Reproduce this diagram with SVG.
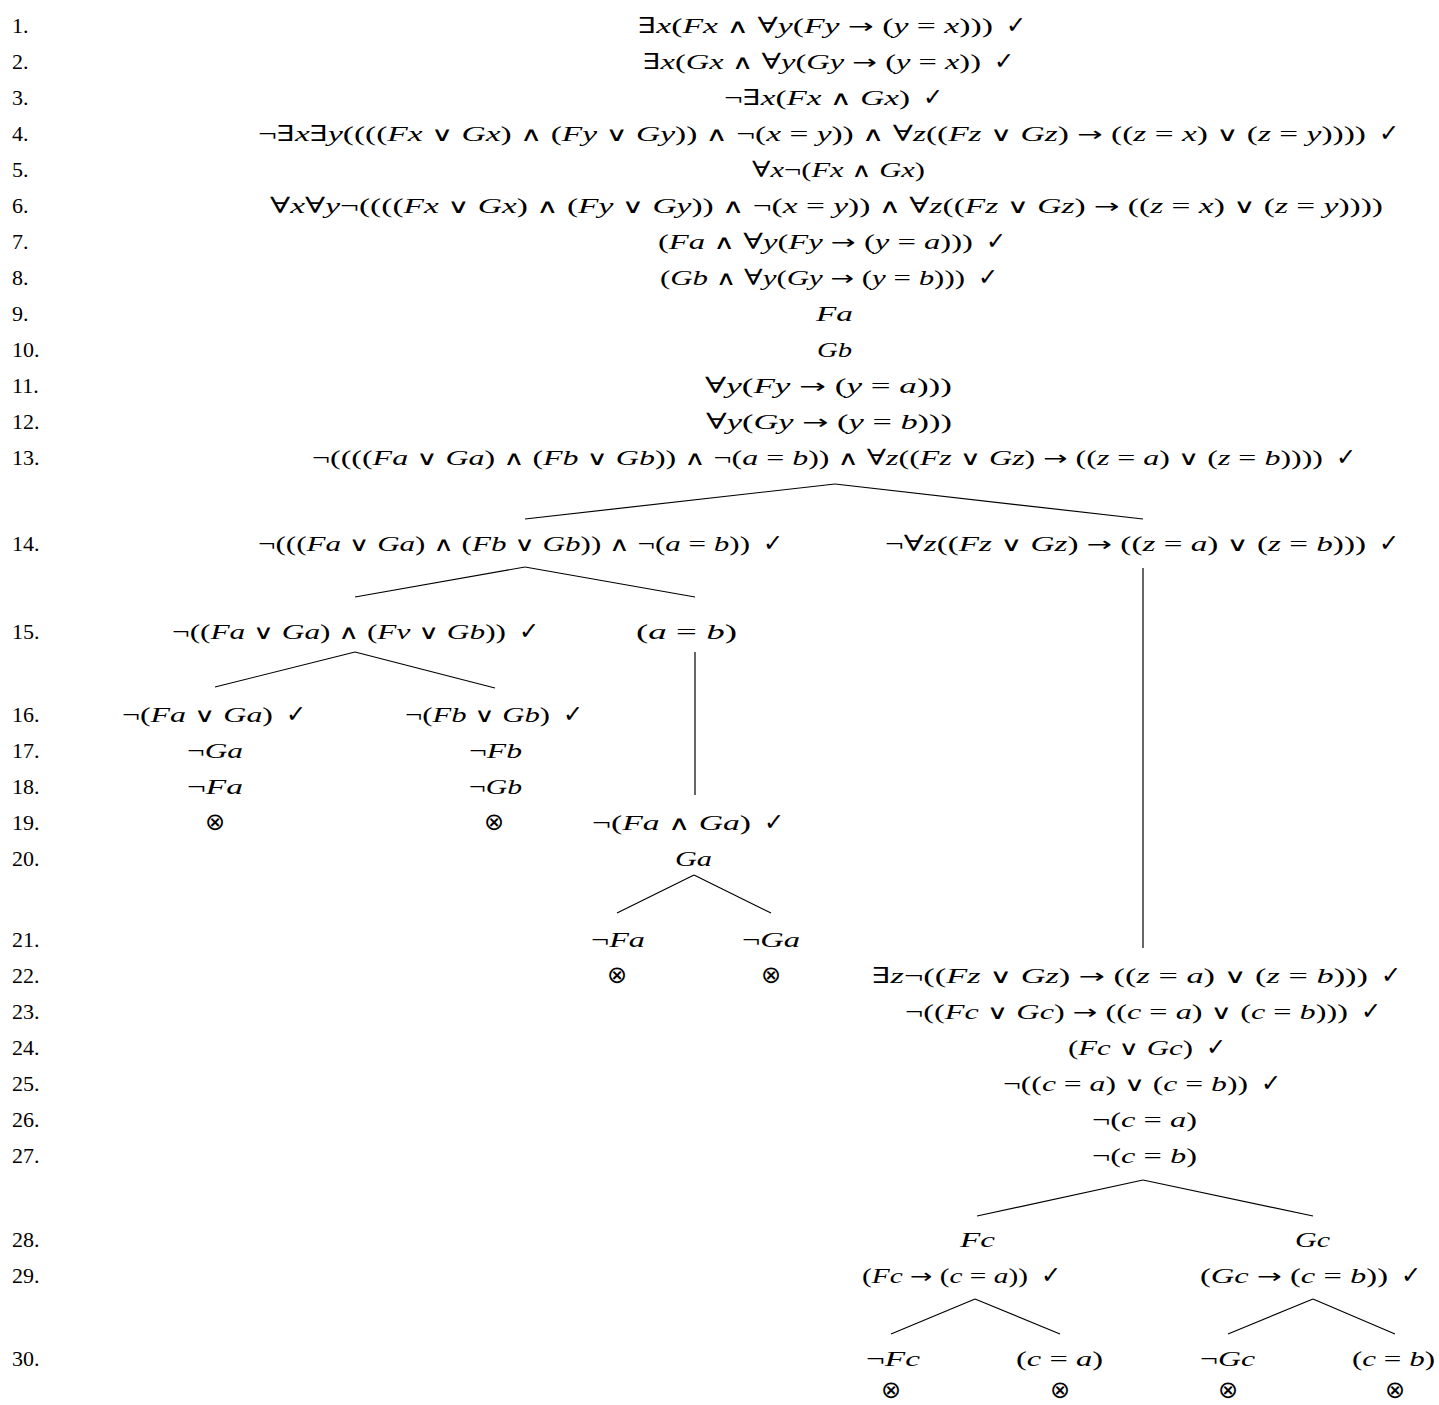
<svg xmlns="http://www.w3.org/2000/svg" width="1439" height="1405" viewBox="0 0 1439 1405">
<style>
.t{font-family:"Liberation Serif","DejaVu Serif",serif;font-size:22px;fill:#000}
.lb{font-family:"Liberation Serif","DejaVu Serif",serif;font-size:22px;fill:#000}
.i{font-style:italic}
.w{font-family:"DejaVu Sans",sans-serif;font-size:20px}
.a{font-family:"DejaVu Sans",sans-serif;font-size:20px}
.ck{font-family:"DejaVu Sans",sans-serif;font-size:24px;fill:#000}
.x{font-family:"DejaVu Sans",sans-serif;font-size:24px;fill:#000;text-anchor:middle}
line{stroke:#000;stroke-width:1.2}
</style>
<rect width="1439" height="1405" fill="#fff"/>
<g id="labels">
<text class="lb" x="12" y="33">1.</text>
<text class="lb" x="12" y="69">2.</text>
<text class="lb" x="12" y="105">3.</text>
<text class="lb" x="12" y="141">4.</text>
<text class="lb" x="12" y="177">5.</text>
<text class="lb" x="12" y="213">6.</text>
<text class="lb" x="12" y="249">7.</text>
<text class="lb" x="12" y="285">8.</text>
<text class="lb" x="12" y="321">9.</text>
<text class="lb" x="12" y="357">10.</text>
<text class="lb" x="12" y="393">11.</text>
<text class="lb" x="12" y="429">12.</text>
<text class="lb" x="12" y="465">13.</text>
<text class="lb" x="12" y="551">14.</text>
<text class="lb" x="12" y="639">15.</text>
<text class="lb" x="12" y="722">16.</text>
<text class="lb" x="12" y="758">17.</text>
<text class="lb" x="12" y="794">18.</text>
<text class="lb" x="12" y="830">19.</text>
<text class="lb" x="12" y="866">20.</text>
<text class="lb" x="12" y="947">21.</text>
<text class="lb" x="12" y="983">22.</text>
<text class="lb" x="12" y="1019">23.</text>
<text class="lb" x="12" y="1055">24.</text>
<text class="lb" x="12" y="1091">25.</text>
<text class="lb" x="12" y="1127">26.</text>
<text class="lb" x="12" y="1163">27.</text>
<text class="lb" x="12" y="1247">28.</text>
<text class="lb" x="12" y="1283">29.</text>
<text class="lb" x="12" y="1366">30.</text>
</g>
<g id="connectors">
<line x1="835" y1="484" x2="525" y2="519"/>
<line x1="835" y1="484" x2="1143" y2="519"/>
<line x1="525" y1="567" x2="355" y2="597"/>
<line x1="525" y1="567" x2="695" y2="597"/>
<line x1="695" y1="652" x2="695" y2="795"/>
<line x1="1143" y1="568" x2="1143" y2="948"/>
<line x1="355" y1="652" x2="215" y2="687"/>
<line x1="355" y1="652" x2="495" y2="688"/>
<line x1="694" y1="875" x2="617" y2="913"/>
<line x1="694" y1="875" x2="771" y2="913"/>
<line x1="1143" y1="1180" x2="977" y2="1216"/>
<line x1="1143" y1="1180" x2="1313" y2="1216"/>
<line x1="975" y1="1299" x2="891" y2="1334"/>
<line x1="975" y1="1299" x2="1060" y2="1334"/>
<line x1="1313" y1="1299" x2="1228" y2="1334"/>
<line x1="1313" y1="1299" x2="1395" y2="1334"/>
</g>
<g id="n1"><text class="t" x="638" y="33" textLength="355" lengthAdjust="spacingAndGlyphs">∃<tspan class="i">x</tspan>(<tspan class="i">Fx</tspan> <tspan class="w">∧</tspan> ∀<tspan class="i">y</tspan>(<tspan class="i">Fy</tspan> <tspan class="a">→</tspan> (<tspan class="i">y</tspan> = <tspan class="i">x</tspan>)))</text><text class="ck" x="1006" y="33">✓</text></g>
<g id="n2"><text class="t" x="643" y="69" textLength="338" lengthAdjust="spacingAndGlyphs">∃<tspan class="i">x</tspan>(<tspan class="i">Gx</tspan> <tspan class="w">∧</tspan> ∀<tspan class="i">y</tspan>(<tspan class="i">Gy</tspan> <tspan class="a">→</tspan> (<tspan class="i">y</tspan> = <tspan class="i">x</tspan>))</text><text class="ck" x="994" y="69">✓</text></g>
<g id="n3"><text class="t" x="724" y="105" textLength="186" lengthAdjust="spacingAndGlyphs">¬∃<tspan class="i">x</tspan>(<tspan class="i">Fx</tspan> <tspan class="w">∧</tspan> <tspan class="i">Gx</tspan>)</text><text class="ck" x="923" y="105">✓</text></g>
<g id="n4"><text class="t" x="258" y="141" textLength="1108" lengthAdjust="spacingAndGlyphs">¬∃<tspan class="i">x</tspan>∃<tspan class="i">y</tspan>((((<tspan class="i">Fx</tspan> <tspan class="w">∨</tspan> <tspan class="i">Gx</tspan>) <tspan class="w">∧</tspan> (<tspan class="i">Fy</tspan> <tspan class="w">∨</tspan> <tspan class="i">Gy</tspan>)) <tspan class="w">∧</tspan> ¬(<tspan class="i">x</tspan> = <tspan class="i">y</tspan>)) <tspan class="w">∧</tspan> ∀<tspan class="i">z</tspan>((<tspan class="i">Fz</tspan> <tspan class="w">∨</tspan> <tspan class="i">Gz</tspan>) <tspan class="a">→</tspan> ((<tspan class="i">z</tspan> = <tspan class="i">x</tspan>) <tspan class="w">∨</tspan> (<tspan class="i">z</tspan> = <tspan class="i">y</tspan>))))</text><text class="ck" x="1379" y="141">✓</text></g>
<g id="n5"><text class="t" x="752" y="177" textLength="173" lengthAdjust="spacingAndGlyphs">∀<tspan class="i">x</tspan>¬(<tspan class="i">Fx</tspan> <tspan class="w">∧</tspan> <tspan class="i">Gx</tspan>)</text></g>
<g id="n6"><text class="t" x="270" y="213" textLength="1113" lengthAdjust="spacingAndGlyphs">∀<tspan class="i">x</tspan>∀<tspan class="i">y</tspan>¬((((<tspan class="i">Fx</tspan> <tspan class="w">∨</tspan> <tspan class="i">Gx</tspan>) <tspan class="w">∧</tspan> (<tspan class="i">Fy</tspan> <tspan class="w">∨</tspan> <tspan class="i">Gy</tspan>)) <tspan class="w">∧</tspan> ¬(<tspan class="i">x</tspan> = <tspan class="i">y</tspan>)) <tspan class="w">∧</tspan> ∀<tspan class="i">z</tspan>((<tspan class="i">Fz</tspan> <tspan class="w">∨</tspan> <tspan class="i">Gz</tspan>) <tspan class="a">→</tspan> ((<tspan class="i">z</tspan> = <tspan class="i">x</tspan>) <tspan class="w">∨</tspan> (<tspan class="i">z</tspan> = <tspan class="i">y</tspan>))))</text></g>
<g id="n7"><text class="t" x="658" y="249" textLength="315" lengthAdjust="spacingAndGlyphs">(<tspan class="i">Fa</tspan> <tspan class="w">∧</tspan> ∀<tspan class="i">y</tspan>(<tspan class="i">Fy</tspan> <tspan class="a">→</tspan> (<tspan class="i">y</tspan> = <tspan class="i">a</tspan>)))</text><text class="ck" x="986" y="249">✓</text></g>
<g id="n8"><text class="t" x="660" y="285" textLength="305" lengthAdjust="spacingAndGlyphs">(<tspan class="i">Gb</tspan> <tspan class="w">∧</tspan> ∀<tspan class="i">y</tspan>(<tspan class="i">Gy</tspan> <tspan class="a">→</tspan> (<tspan class="i">y</tspan> = <tspan class="i">b</tspan>)))</text><text class="ck" x="978" y="285">✓</text></g>
<g id="n9"><text class="t i" x="816" y="321" textLength="37" lengthAdjust="spacingAndGlyphs">Fa</text></g>
<g id="n10"><text class="t i" x="817" y="357" textLength="35" lengthAdjust="spacingAndGlyphs">Gb</text></g>
<g id="n11"><text class="t" x="705" y="393" textLength="247" lengthAdjust="spacingAndGlyphs">∀<tspan class="i">y</tspan>(<tspan class="i">Fy</tspan> <tspan class="a">→</tspan> (<tspan class="i">y</tspan> = <tspan class="i">a</tspan>)))</text></g>
<g id="n12"><text class="t" x="706" y="429" textLength="246" lengthAdjust="spacingAndGlyphs">∀<tspan class="i">y</tspan>(<tspan class="i">Gy</tspan> <tspan class="a">→</tspan> (<tspan class="i">y</tspan> = <tspan class="i">b</tspan>)))</text></g>
<g id="n13"><text class="t" x="312" y="465" textLength="1011" lengthAdjust="spacingAndGlyphs">¬((((<tspan class="i">Fa</tspan> <tspan class="w">∨</tspan> <tspan class="i">Ga</tspan>) <tspan class="w">∧</tspan> (<tspan class="i">Fb</tspan> <tspan class="w">∨</tspan> <tspan class="i">Gb</tspan>)) <tspan class="w">∧</tspan> ¬(<tspan class="i">a</tspan> = <tspan class="i">b</tspan>)) <tspan class="w">∧</tspan> ∀<tspan class="i">z</tspan>((<tspan class="i">Fz</tspan> <tspan class="w">∨</tspan> <tspan class="i">Gz</tspan>) <tspan class="a">→</tspan> ((<tspan class="i">z</tspan> = <tspan class="i">a</tspan>) <tspan class="w">∨</tspan> (<tspan class="i">z</tspan> = <tspan class="i">b</tspan>))))</text><text class="ck" x="1336" y="465">✓</text></g>
<g id="n14a"><text class="t" x="258" y="551" textLength="492" lengthAdjust="spacingAndGlyphs">¬(((<tspan class="i">Fa</tspan> <tspan class="w">∨</tspan> <tspan class="i">Ga</tspan>) <tspan class="w">∧</tspan> (<tspan class="i">Fb</tspan> <tspan class="w">∨</tspan> <tspan class="i">Gb</tspan>)) <tspan class="w">∧</tspan> ¬(<tspan class="i">a</tspan> = <tspan class="i">b</tspan>))</text><text class="ck" x="763" y="551">✓</text></g>
<g id="n14b"><text class="t" x="885" y="551" textLength="481" lengthAdjust="spacingAndGlyphs">¬∀<tspan class="i">z</tspan>((<tspan class="i">Fz</tspan> <tspan class="w">∨</tspan> <tspan class="i">Gz</tspan>) <tspan class="a">→</tspan> ((<tspan class="i">z</tspan> = <tspan class="i">a</tspan>) <tspan class="w">∨</tspan> (<tspan class="i">z</tspan> = <tspan class="i">b</tspan>)))</text><text class="ck" x="1379" y="551">✓</text></g>
<g id="n15a"><text class="t" x="172" y="639" textLength="334" lengthAdjust="spacingAndGlyphs">¬((<tspan class="i">Fa</tspan> <tspan class="w">∨</tspan> <tspan class="i">Ga</tspan>) <tspan class="w">∧</tspan> (<tspan class="i">Fv</tspan> <tspan class="w">∨</tspan> <tspan class="i">Gb</tspan>))</text><text class="ck" x="519" y="639">✓</text></g>
<g id="n15b"><text class="t" x="636" y="639" textLength="101" lengthAdjust="spacingAndGlyphs">(<tspan class="i">a</tspan> = <tspan class="i">b</tspan>)</text></g>
<g id="n16a"><text class="t" x="122" y="722" textLength="151" lengthAdjust="spacingAndGlyphs">¬(<tspan class="i">Fa</tspan> <tspan class="w">∨</tspan> <tspan class="i">Ga</tspan>)</text><text class="ck" x="286" y="722">✓</text></g>
<g id="n16b"><text class="t" x="405" y="722" textLength="145" lengthAdjust="spacingAndGlyphs">¬(<tspan class="i">Fb</tspan> <tspan class="w">∨</tspan> <tspan class="i">Gb</tspan>)</text><text class="ck" x="563" y="722">✓</text></g>
<g id="n17a"><text class="t" x="187" y="758" textLength="56" lengthAdjust="spacingAndGlyphs">¬<tspan class="i">Ga</tspan></text></g>
<g id="n17b"><text class="t" x="469" y="758" textLength="53" lengthAdjust="spacingAndGlyphs">¬<tspan class="i">Fb</tspan></text></g>
<g id="n18a"><text class="t" x="187" y="794" textLength="56" lengthAdjust="spacingAndGlyphs">¬<tspan class="i">Fa</tspan></text></g>
<g id="n18b"><text class="t" x="469" y="794" textLength="53" lengthAdjust="spacingAndGlyphs">¬<tspan class="i">Gb</tspan></text></g>
<g id="n19a"><text class="x" x="215" y="830">⊗</text></g>
<g id="n19b"><text class="x" x="494" y="830">⊗</text></g>
<g id="n19c"><text class="t" x="592" y="830" textLength="159" lengthAdjust="spacingAndGlyphs">¬(<tspan class="i">Fa</tspan> <tspan class="w">∧</tspan> <tspan class="i">Ga</tspan>)</text><text class="ck" x="764" y="830">✓</text></g>
<g id="n20"><text class="t i" x="675" y="866" textLength="37" lengthAdjust="spacingAndGlyphs">Ga</text></g>
<g id="n21a"><text class="t" x="591" y="947" textLength="54" lengthAdjust="spacingAndGlyphs">¬<tspan class="i">Fa</tspan></text></g>
<g id="n21b"><text class="t" x="742" y="947" textLength="58" lengthAdjust="spacingAndGlyphs">¬<tspan class="i">Ga</tspan></text></g>
<g id="n22a"><text class="x" x="617" y="983">⊗</text></g>
<g id="n22b"><text class="x" x="771" y="983">⊗</text></g>
<g id="n22c"><text class="t" x="872" y="983" textLength="496" lengthAdjust="spacingAndGlyphs">∃<tspan class="i">z</tspan>¬((<tspan class="i">Fz</tspan> <tspan class="w">∨</tspan> <tspan class="i">Gz</tspan>) <tspan class="a">→</tspan> ((<tspan class="i">z</tspan> = <tspan class="i">a</tspan>) <tspan class="w">∨</tspan> (<tspan class="i">z</tspan> = <tspan class="i">b</tspan>)))</text><text class="ck" x="1381" y="983">✓</text></g>
<g id="n23"><text class="t" x="905" y="1019" textLength="443" lengthAdjust="spacingAndGlyphs">¬((<tspan class="i">Fc</tspan> <tspan class="w">∨</tspan> <tspan class="i">Gc</tspan>) <tspan class="a">→</tspan> ((<tspan class="i">c</tspan> = <tspan class="i">a</tspan>) <tspan class="w">∨</tspan> (<tspan class="i">c</tspan> = <tspan class="i">b</tspan>)))</text><text class="ck" x="1361" y="1019">✓</text></g>
<g id="n24"><text class="t" x="1068" y="1055" textLength="125" lengthAdjust="spacingAndGlyphs">(<tspan class="i">Fc</tspan> <tspan class="w">∨</tspan> <tspan class="i">Gc</tspan>)</text><text class="ck" x="1206" y="1055">✓</text></g>
<g id="n25"><text class="t" x="1003" y="1091" textLength="245" lengthAdjust="spacingAndGlyphs">¬((<tspan class="i">c</tspan> = <tspan class="i">a</tspan>) <tspan class="w">∨</tspan> (<tspan class="i">c</tspan> = <tspan class="i">b</tspan>))</text><text class="ck" x="1261" y="1091">✓</text></g>
<g id="n26"><text class="t" x="1092" y="1127" textLength="105" lengthAdjust="spacingAndGlyphs">¬(<tspan class="i">c</tspan> = <tspan class="i">a</tspan>)</text></g>
<g id="n27"><text class="t" x="1092" y="1163" textLength="105" lengthAdjust="spacingAndGlyphs">¬(<tspan class="i">c</tspan> = <tspan class="i">b</tspan>)</text></g>
<g id="n28a"><text class="t i" x="960" y="1247" textLength="35" lengthAdjust="spacingAndGlyphs">Fc</text></g>
<g id="n28b"><text class="t i" x="1295" y="1247" textLength="35" lengthAdjust="spacingAndGlyphs">Gc</text></g>
<g id="n29a"><text class="t" x="862" y="1283" textLength="166" lengthAdjust="spacingAndGlyphs">(<tspan class="i">Fc</tspan> <tspan class="a">→</tspan> (<tspan class="i">c</tspan> = <tspan class="i">a</tspan>))</text><text class="ck" x="1041" y="1283">✓</text></g>
<g id="n29b"><text class="t" x="1200" y="1283" textLength="188" lengthAdjust="spacingAndGlyphs">(<tspan class="i">Gc</tspan> <tspan class="a">→</tspan> (<tspan class="i">c</tspan> = <tspan class="i">b</tspan>))</text><text class="ck" x="1401" y="1283">✓</text></g>
<g id="n30a"><text class="t" x="866" y="1366" textLength="54" lengthAdjust="spacingAndGlyphs">¬<tspan class="i">Fc</tspan></text></g>
<g id="n30b"><text class="t" x="1016" y="1366" textLength="87" lengthAdjust="spacingAndGlyphs">(<tspan class="i">c</tspan> = <tspan class="i">a</tspan>)</text></g>
<g id="n30c"><text class="t" x="1200" y="1366" textLength="55" lengthAdjust="spacingAndGlyphs">¬<tspan class="i">Gc</tspan></text></g>
<g id="n30d"><text class="t" x="1352" y="1366" textLength="83" lengthAdjust="spacingAndGlyphs">(<tspan class="i">c</tspan> = <tspan class="i">b</tspan>)</text></g>
<g id="n31a"><text class="x" x="891" y="1398">⊗</text></g>
<g id="n31b"><text class="x" x="1060" y="1398">⊗</text></g>
<g id="n31c"><text class="x" x="1228" y="1398">⊗</text></g>
<g id="n31d"><text class="x" x="1395" y="1398">⊗</text></g>
</svg>
